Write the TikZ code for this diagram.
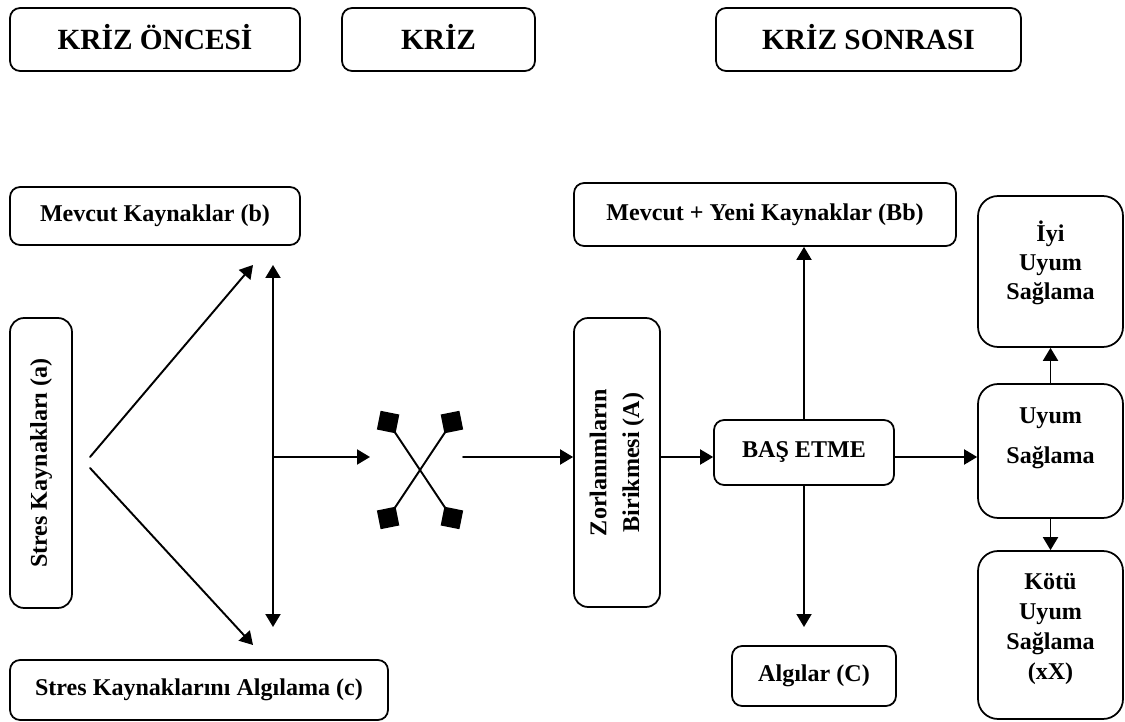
\documentclass[tikz,border=0pt]{standalone}
\usepackage{fontspec}
\setmainfont{Liberation Serif}
\usetikzlibrary{arrows.meta}

\begin{document}
\begin{tikzpicture}[x=0.02cm,y=-0.02cm,line cap=round,
	>={Triangle[length=0.26cm,width=0.3cm]},
	box/.style={draw,line width=1pt,rounded corners=0.2cm,inner sep=0pt,align=center,
		font=\fontsize{13.7}{17}\selectfont\bfseries},
	head/.style={box,minimum height=1.26cm,text height=14pt,text depth=3pt,
		font=\fontsize{16.7}{20}\selectfont\bfseries},
	side/.style={box,rotate=90,rounded corners=0.28cm},
	tall/.style={box,rounded corners=0.4cm,minimum width=2.9cm},
	link/.style={line width=1.1pt,->},
	cross/.style={line width=1.1pt,{Diamond[length=0.54cm,width=0.54cm]}-{Diamond[length=0.54cm,width=0.54cm]}}]
	\useasboundingbox (0,0) rectangle (1125,722);
	%% Headers
	\node[head,minimum width=5.8cm] (pre) at (155,39.5) {KRİZ ÖNCESİ};
	\node[head,minimum width=3.86cm] (kriz) at (438.5,39.5) {KRİZ};
	\node[head,minimum width=6.1cm] (post) at (868.5,39.5) {KRİZ SONRASI};
	%% Before the crisis
	\node[box,minimum width=5.8cm,minimum height=1.16cm] (res) at (155,216) {Mevcut Kaynaklar (b)};
	\node[side,minimum width=5.8cm,minimum height=1.24cm] (str) at (41,463) {Stres Kaynakları (a)};
	\node[box,minimum width=7.56cm,minimum height=1.2cm] (per) at (199,690) {Stres Kaynaklarını Algılama (c)};
	\coordinate (sa) at (90,457);
	\coordinate (sb) at (90,468);
	\coordinate (up) at (253,265);
	\coordinate (dn) at (253,645);
	\coordinate (vtop) at (273,265);
	\coordinate (vbot) at (273,627);
	\coordinate (vmid) at (273,457);
	\coordinate (hin) at (370,457);
	\draw[link] (sa) -- (up);
	\draw[link] (sb) -- (dn);
	\draw[link,<->] (vtop) -- (vbot);
	\draw[link] (vmid) -- (hin);
	%% Crisis
	\coordinate (x1) at (380.6,410.8);
	\coordinate (x2) at (459.4,529.2);
	\coordinate (x3) at (459.4,410.8);
	\coordinate (x4) at (380.6,529.2);
	\draw[cross] (x1) -- (x2);
	\draw[cross] (x3) -- (x4);
	%% After the crisis
	\node[side,minimum width=5.78cm,minimum height=1.72cm,font=\fontsize{13.7}{18.7}\selectfont\bfseries] (acc) at (617,462.5) {Zorlanımların\\Birikmesi (A)};
	\node[box,minimum width=3.6cm,minimum height=1.3cm] (cope) at (804,452.5) {BAŞ ETME};
	\node[box,minimum width=7.64cm,minimum height=1.26cm] (newres) at (765,214.5) {Mevcut + Yeni Kaynaklar (Bb)};
	\node[box,minimum width=3.28cm,minimum height=1.2cm] (perc) at (814,676) {Algılar (C)};
	\node[tall,minimum height=2.68cm,text depth=18pt,font=\fontsize{13.7}{22.8}\selectfont\bfseries] (adapt) at (1050.5,451) {Uyum\\Sağlama};
	\node[tall,minimum height=3.02cm,text depth=13.4pt,font=\fontsize{13.7}{16.5}\selectfont\bfseries] (good) at (1050.5,271.5) {İyi\\Uyum\\Sağlama};
	\node[tall,minimum height=3.36cm,text depth=9.7pt] (bad) at (1050.5,635) {Kötü\\Uyum\\Sağlama\\(xX)};
	\coordinate (xout) at (463,457);
	\coordinate (row) at (0,457);
	\coordinate (pend) at (804,627);
	\draw[link] (xout) -- (xout -| acc.north);
	\draw[link] (acc.south |- row) -- (cope.west |- row);
	\draw[link] (cope.east |- row) -- (adapt.west |- row);
	\draw[link] (cope.north) -- (newres.south -| cope.north);
	\draw[link] (cope.south) -- (pend);
	\draw[link] (adapt.north) -- (good.south);
	\draw[link] (adapt.south) -- (bad.north);
\end{tikzpicture}
\end{document}
